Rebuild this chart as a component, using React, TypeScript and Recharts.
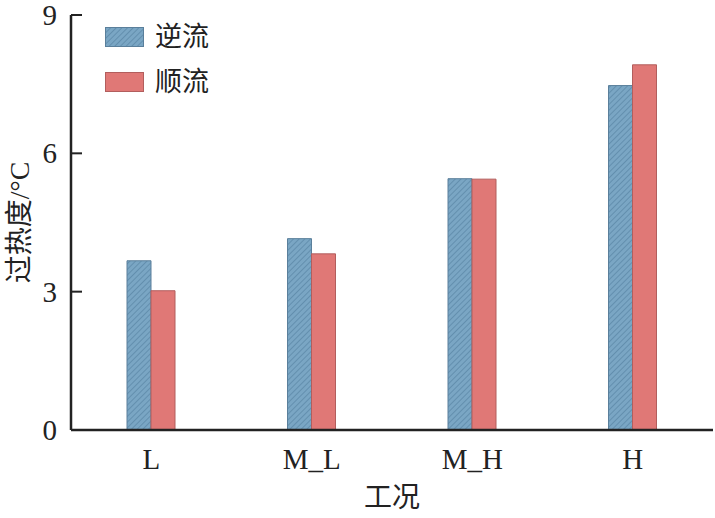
import { BarChart, Bar, XAxis, YAxis } from "recharts";

const categories = ["L", "M_L", "M_H", "H"];
const counterFlow = [3.67, 4.15, 5.45, 7.47];
const parallelFlow = [3.02, 3.82, 5.44, 7.92];
const yTicks = [0, 3, 6, 9];

const data = categories.map((name, i) => ({
  name,
  counter: counterFlow[i],
  parallel: parallelFlow[i],
}));

const FONT = '"Liberation Serif", "Times New Roman", "Noto Sans CJK SC", serif';
const INK = "#222";
const BLUE = "#7aa6c4";
const BLUE_EDGE = "#5a7f9b";
const RED = "#e07876";
const RED_EDGE = "#b25e5d";

function Hatch({ id }: { id: string }) {
  return (
    <pattern id={id} width="4" height="4" patternUnits="userSpaceOnUse" patternTransform="rotate(45)">
      <rect width="4" height="4" fill={BLUE} />
      <line x1="0" y1="0" x2="0" y2="4" stroke="#5783a3" strokeWidth="1.3" />
    </pattern>
  );
}

// inward tick marks with the number drawn to the left of the axis
function YTick(props: any) {
  const { x, y, payload } = props;
  return (
    <g>
      <line x1={x + 14} x2={x + 25} y1={y} y2={y} stroke={INK} strokeWidth={2} />
      <text x={x} y={y} textAnchor="end" dominantBaseline="central" fontSize={29} fill={INK} fontFamily={FONT}>
        {payload.value}
      </text>
    </g>
  );
}

function LegendBox() {
  const items = [
    { label: "逆流", fill: "url(#hatchLegend)", edge: BLUE_EDGE },
    { label: "顺流", fill: RED, edge: RED_EDGE },
  ];
  return (
    <div style={{ position: "absolute", left: 105, top: 15, fontFamily: FONT }}>
      {items.map((it) => (
        <div key={it.label} style={{ display: "flex", alignItems: "center", height: 45 }}>
          <svg width={40} height={21} style={{ marginRight: 10 }}>
            <defs>
              <Hatch id="hatchLegend" />
            </defs>
            <rect x={0.5} y={0.5} width={38} height={19} fill={it.fill} stroke={it.edge} />
          </svg>
          <span style={{ fontSize: 27, color: INK, lineHeight: 1 }}>{it.label}</span>
        </div>
      ))}
    </div>
  );
}

export default function App() {
  return (
    <div style={{ position: "absolute", left: 0, top: 0, width: 715, height: 518, background: "#fff" }}>
      <BarChart
        width={715}
        height={518}
        data={data}
        margin={{ top: 15, right: 2, bottom: 0, left: 21 }}
        barSize={24}
        barGap={0}
      >
        <defs>
          <Hatch id="hatchBar" />
        </defs>
        <XAxis
          dataKey="name"
          height={88}
          tickLine={false}
          tickMargin={12}
          axisLine={{ stroke: INK, strokeWidth: 2.5 }}
          tick={{ fontSize: 29, fill: INK, fontFamily: FONT }}
          label={{ value: "工况", position: "insideBottom", offset: 11, fontSize: 28, fill: INK, fontFamily: FONT }}
        />
        <XAxis xAxisId="top" orientation="top" dataKey="name" height={0} tick={false} tickLine={false}
          axisLine={{ stroke: INK, strokeWidth: 2.5 }} />
        <YAxis
          width={50}
          domain={[0, 9]}
          ticks={yTicks}
          tickSize={0}
          tickMargin={14}
          axisLine={{ stroke: INK, strokeWidth: 2.5 }}
          tick={<YTick />}
          label={{
            content: (p: any) => {
              const vb = p.viewBox;
              const cy = vb.y + vb.height / 2;
              return (
                <text x={19} y={cy} transform={`rotate(-90, 19, ${cy})`} textAnchor="middle"
                  dominantBaseline="central" fontSize={28} fill={INK} fontFamily={FONT}>
                  过热度/°C
                </text>
              );
            },
          }}
        />
        <YAxis yAxisId="right" orientation="right" width={0} domain={[0, 9]} tick={false} tickLine={false}
          axisLine={{ stroke: INK, strokeWidth: 2.5 }} />
        <Bar dataKey="counter" name="逆流" fill="url(#hatchBar)" stroke={BLUE_EDGE} strokeWidth={1} isAnimationActive={false} />
        <Bar dataKey="parallel" name="顺流" fill={RED} stroke={RED_EDGE} strokeWidth={1} isAnimationActive={false} />
      </BarChart>
      <LegendBox />
    </div>
  );
}
